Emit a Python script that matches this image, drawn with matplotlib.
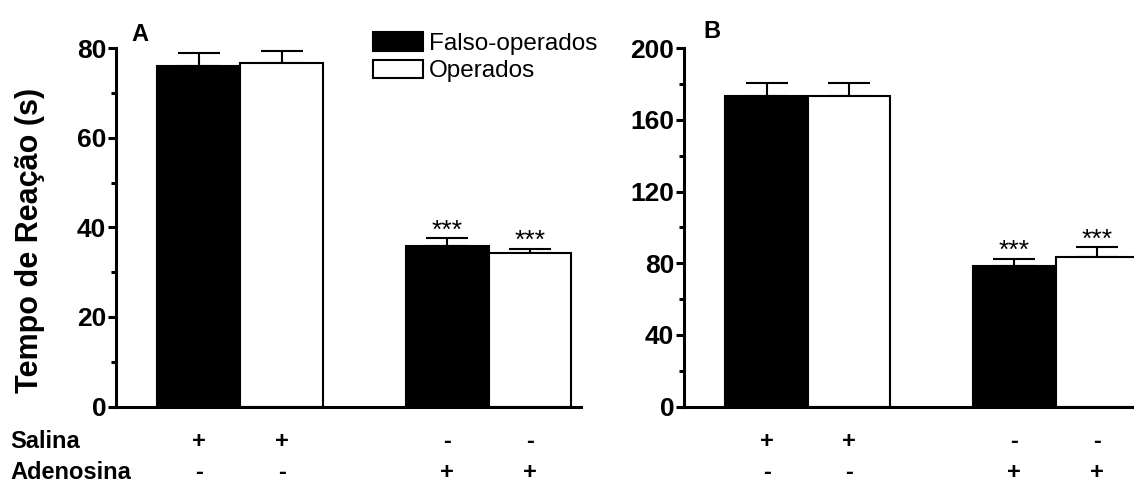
import numpy as np
import matplotlib
matplotlib.use('Agg')
import matplotlib.pyplot as plt
import matplotlib as mpl
from matplotlib.patches import Patch
from matplotlib.transforms import blended_transform_factory

# data
groups = ['Falso-operados', 'Operados']
salina = ['+', '+', '-', '-']
adenosina = ['-', '-', '+', '+']
stars = ['', '', '***', '***']

a_mean = [76.1, 76.8, 35.9, 34.2]
a_err = [2.8, 2.6, 1.7, 1.0]
b_mean = [173.6, 173.6, 78.7, 83.7]
b_err = [7.0, 7.0, 3.9, 5.2]

xpos = [1, 2, 4, 5]
colors = ['black', 'white', 'black', 'white']

W, H = 1134, 486
ROW1, ROW2 = 441, 472


def px_x(p):
    return p / W


def px_y(p):
    return 1 - p / H


def draw_panel(ax, mean, err, ymax, major, minor, xmax):
    ax.bar(xpos, mean, width=1.0, color=colors, edgecolor='black',
           linewidth=1.5, zorder=2)
    lower = np.zeros(len(mean))
    ax.errorbar(xpos, mean, yerr=[lower, err], fmt='none', ecolor='black',
                elinewidth=1.5, capsize=15, capthick=1.5, zorder=1)
    for x, m, e, s in zip(xpos, mean, err, stars):
        if s:
            ax.annotate(s, (x, m + e), xytext=(0, 0.5),
                        textcoords='offset points', ha='center',
                        va='baseline', fontsize=19)
    ax.set_xlim(0, xmax)
    ax.set_ylim(0, ymax)
    ax.set_xticks([])
    ax.yaxis.set_major_locator(mpl.ticker.FixedLocator(major))
    ax.yaxis.set_minor_locator(mpl.ticker.FixedLocator(minor))
    ax.spines['top'].set_visible(False)
    ax.spines['right'].set_visible(False)
    ax.spines['left'].set_linewidth(2.2)
    ax.spines['bottom'].set_linewidth(2.2)
    ax.tick_params(axis='y', which='major', direction='out', length=6,
                   width=2.2, pad=1, labelsize=19)
    ax.tick_params(axis='y', which='minor', direction='out', length=3.5,
                   width=2.2)
    for lab in ax.get_yticklabels():
        lab.set_fontweight('bold')

    # +/- rows under the bars
    trans = blended_transform_factory(ax.transData, ax.transAxes)
    axh = ax.get_position().height * H
    y1 = (406.5 - ROW1) / axh
    y2 = (406.5 - ROW2) / axh
    for x, s, a in zip(xpos, salina, adenosina):
        ax.text(x, y1, s, transform=trans, ha='center', va='center',
                fontsize=17, fontweight='bold', clip_on=False)
        ax.text(x, y2, a, transform=trans, ha='center', va='center',
                fontsize=17, fontweight='bold', clip_on=False)


def main():
    mpl.rcParams['font.family'] = ['Liberation Sans', 'DejaVu Sans']

    fig = plt.figure(figsize=(W / 100, H / 100), dpi=100)

    bottom = px_y(406.5)
    height = (406.5 - 48.3) / H

    ax_a = fig.add_axes([px_x(116), bottom, px_x(580.6 - 116), height])
    draw_panel(ax_a, a_mean, a_err, 80, [0, 20, 40, 60, 80],
               [10, 30, 50, 70], 5.61)

    ax_b = fig.add_axes([px_x(684), bottom, px_x(W - 684), height])
    draw_panel(ax_b, b_mean, b_err, 200, [0, 40, 80, 120, 160, 200],
               [20, 60, 100, 140, 180], 5.45)

    fig.text(px_x(30), px_y(240), 'Tempo de Reação (s)', rotation=90,
             ha='center', va='center', fontsize=22, fontweight='bold')

    fig.text(px_x(131), px_y(23), 'A', ha='left', va='top',
             fontsize=17, fontweight='bold')
    fig.text(px_x(703), px_y(20), 'B', ha='left', va='top',
             fontsize=17, fontweight='bold')

    fig.text(px_x(10), px_y(ROW1), 'Salina', ha='left', va='center',
             fontsize=17, fontweight='bold')
    fig.text(px_x(10), px_y(ROW2), 'Adenosina', ha='left', va='center',
             fontsize=17, fontweight='bold')

    handles = [Patch(facecolor='black', edgecolor='black', linewidth=1.5),
               Patch(facecolor='white', edgecolor='black', linewidth=1.5)]
    fig.legend(handles, groups, loc='upper left',
               bbox_to_anchor=(px_x(373), px_y(32)), frameon=False,
               fontsize=17.5, handlelength=2.05, handleheight=0.8,
               handletextpad=0.25, labelspacing=0.2, borderpad=0,
               borderaxespad=0)

    fig.savefig('out.png', dpi=100)
    plt.close(fig)


if __name__ == '__main__':
    main()
